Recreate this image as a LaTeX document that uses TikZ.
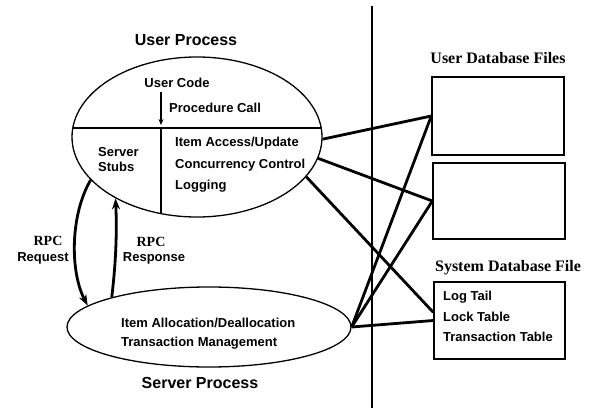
\documentclass[tikz,border=0pt]{standalone}
\usepackage{fontspec}
\setmainfont{Liberation Sans}
\newfontfamily\serifhead{Liberation Serif}
\usetikzlibrary{shapes.geometric,arrows.meta}

\tikzset{
  proc/.style={ellipse, draw, line width=1.3pt, inner sep=0pt},
  filebox/.style={draw, line width=1.4pt, inner sep=0pt, minimum width=#1},
  heading/.style={font=\fontsize{16}{18}\selectfont\bfseries, inner sep=0pt},
  serifhd/.style={font=\fontsize{16}{18}\selectfont\serifhead\bfseries, inner sep=0pt},
  body/.style={font=\fontsize{13}{15}\selectfont\bfseries, inner sep=0pt, anchor=west},
  rpc/.style={font=\fontsize{14}{16}\selectfont\serifhead\bfseries, inner sep=0pt},
  rpcsub/.style={font=\fontsize{13}{15}\selectfont\bfseries, inner sep=0pt},
  link/.style={line width=2.8pt},
  call/.style={line width=2.8pt, -{Stealth[length=11pt,width=8pt]}},
}

\begin{document}
\begin{tikzpicture}[x=1pt, y=-1pt]
\useasboundingbox (0,0) rectangle (589,409);

% user process
\node[heading] (uptitle) at (186,40) {User Process};
\node[proc, minimum width=250pt, minimum height=160pt] (user) at (197,137) {};
\coordinate (hl) at (72.5,128);
\coordinate (hr) at (321.5,128);
\draw[line width=1.2pt] (hl) -- (hr);
\coordinate (vt) at (161,128);
\coordinate (vb) at (161,213.5);
\draw[line width=1.2pt] (vt) -- (vb);

\node[body, anchor=center] (ucode) at (177,83) {User Code};
\coordinate (pcs) at (161,92);
\coordinate (pce) at (161,125);
\draw[line width=1.1pt, -{Stealth[length=6pt,width=5pt]}] (pcs) -- (pce);
\node[body] (pcall) at (169,108) {Procedure Call};

\node[body, align=left] (stubs) at (98,159.5) {Server\\Stubs};
\node[body] (item) at (175,143) {Item Access/Update};
\node[body] (conc) at (175,165) {Concurrency Control};
\node[body] (logg) at (175,186) {Logging};

% server process
\node[proc, minimum width=284pt, minimum height=80pt] (server) at (209,327) {};
\node[body] (alloc) at (121,323) {Item Allocation/Deallocation};
\node[body] (tmgmt) at (121,343) {Transaction Management};
\node[heading] (sptitle) at (200,383) {Server Process};

% rpc arrows
\draw[call] (user.202) .. controls (70,215) and (70,272) .. (server.170);
\draw[call] (server.163) .. controls (116,262) and (117,232) .. (user.217.5);
\node[rpc] (rpcq) at (48,241) {RPC};
\node[rpcsub] (req) at (43,258) {Request};
\node[rpc] (rpcr) at (151,242) {RPC};
\node[rpcsub] (resp) at (154,258) {Response};

% divider
\coordinate (dtop) at (372,6);
\coordinate (dbot) at (372,408);
\draw[line width=1.5pt] (dtop) -- (dbot);

% database files
\node[serifhd] (udbf) at (498,58) {User Database Files};
\node[filebox=132pt, minimum height=78pt] (box1) at (498,116) {};
\node[filebox=132pt, minimum height=76pt] (box2) at (499,201) {};
\node[serifhd] (sdbf) at (508,268) {System Database File};
\node[filebox=131pt, minimum height=77pt] (box3) at (499.5,320.5) {};
\node[body] (ltail) at (443,297) {Log Tail};
\node[body] (ltab) at (443,317) {Lock Table};
\node[body] (ttab) at (443,337) {Transaction Table};

% connections
\draw[link] (user.-1.4) -- (box1.west);
\draw[link] (user.-10) -- (box2.west);
\draw[link] (user.-20) -- (box3.173);
\draw[link] (server.east) -- (box1.west);
\draw[link] (server.east) -- (box2.west);
\draw[link] (server.east) -- (box3.west);
\end{tikzpicture}
\end{document}
